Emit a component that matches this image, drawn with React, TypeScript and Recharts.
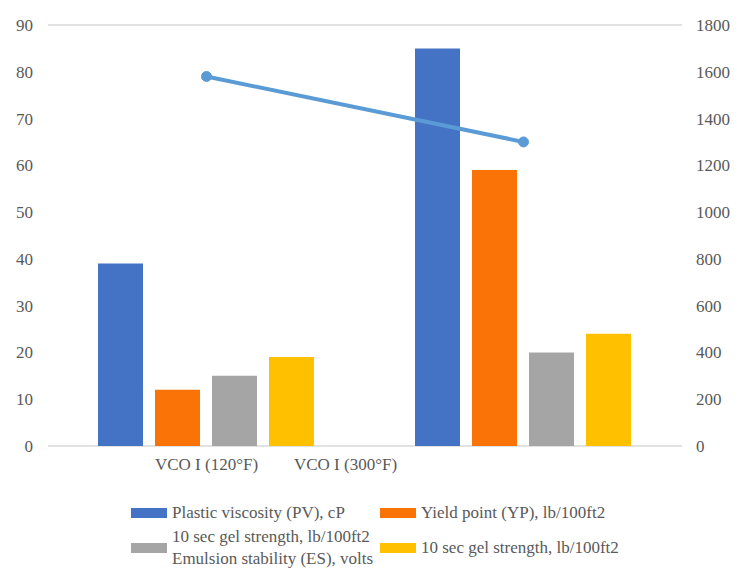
import React from 'react';
import {
  ComposedChart,
  Bar,
  Line,
  XAxis,
  YAxis,
  CartesianGrid,
} from 'recharts';

const categories = ['VCO I (120°F)', 'VCO I (300°F)'];
const plasticViscosity = [39, 85];
const yieldPoint = [12, 59];
const gelStrengthA = [15, 20];
const gelStrengthB = [19, 24];
const emulsionStability = [1580, 1300];

const leftTicks = [0, 10, 20, 30, 40, 50, 60, 70, 80, 90];
const rightTicks = [0, 200, 400, 600, 800, 1000, 1200, 1400, 1600, 1800];

const series = [
  { key: 'pv', name: 'Plastic viscosity (PV), cP', color: '#4472c4' },
  { key: 'yp', name: 'Yield point (YP), lb/100ft2', color: '#f97306' },
  { key: 'gelA', name: '10 sec gel strength, lb/100ft2', color: '#a5a5a5' },
  { key: 'gelB', name: '10 sec gel strength, lb/100ft2', color: '#ffc000' },
];
const lineName = 'Emulsion stability (ES), volts';

const data = categories.map((c, i) => ({
  name: c,
  pv: plasticViscosity[i],
  yp: yieldPoint[i],
  gelA: gelStrengthA[i],
  gelB: gelStrengthB[i],
  es: emulsionStability[i],
}));

const FONT = 'Liberation Serif, Times New Roman, DejaVu Serif, serif';
const TEXT = '#595959';

// the source chart draws the second category label well left of its group
const labelShift = [0, -178];

const CategoryTick = (props: any) => {
  const { x, y, payload, index } = props;
  return (
    <text
      x={x + (labelShift[index] || 0)}
      y={y}
      dy="0.71em"
      textAnchor="middle"
      fill={TEXT}
      style={{ fontFamily: FONT, fontSize: 17 }}
    >
      {payload.value}
    </text>
  );
};

const NumTick = (props: any) => {
  const { x, y, payload, textAnchor } = props;
  return (
    <text
      x={x}
      y={y}
      dy="0.355em"
      textAnchor={textAnchor}
      fill={TEXT}
      style={{ fontFamily: FONT, fontSize: 17 }}
    >
      {payload.value}
    </text>
  );
};

const Swatch = ({ color }: { color: string }) => (
  <div style={{ width: 36, height: 10, background: color, flexShrink: 0, marginRight: 5 }} />
);

export default function App() {
  return (
    <div style={{ position: 'absolute', left: 0, top: 0, width: 748, height: 570, background: '#fff', fontFamily: FONT }}>
      <ComposedChart
        width={748}
        height={480}
        data={data}
        margin={{ top: 25, right: 0, bottom: 0, left: 0 }}
        barCategoryGap={50}
        barGap={12}
      >
        <CartesianGrid vertical={false} stroke="#d9d9d9" strokeWidth={1.5} />
        <XAxis
          dataKey="name"
          axisLine={false}
          tickLine={false}
          height={34}
          tickMargin={6}
          tick={<CategoryTick />}
          interval={0}
        />
        <YAxis
          yAxisId="left"
          domain={[0, 90]}
          ticks={leftTicks}
          width={48}
          axisLine={false}
          tickLine={false}
          tickMargin={9}
          tick={<NumTick />}
        />
        <YAxis
          yAxisId="right"
          orientation="right"
          domain={[0, 1800]}
          ticks={rightTicks}
          width={66}
          axisLine={false}
          tickLine={false}
          tickMargin={8}
          tick={<NumTick />}
        />
        {series.map((s) => (
          <Bar
            key={s.key}
            yAxisId="left"
            dataKey={s.key}
            name={s.name}
            fill={s.color}
            isAnimationActive={false}
          />
        ))}
        <Line
          yAxisId="right"
          dataKey="es"
          name={lineName}
          stroke="#5b9bd5"
          strokeWidth={4}
          dot={{ r: 5, fill: '#5b9bd5', stroke: '#5b9bd5', strokeWidth: 1 }}
          isAnimationActive={false}
        />
      </ComposedChart>
      <div
        style={{
          position: 'absolute',
          left: 131,
          top: 502,
          display: 'grid',
          gridTemplateColumns: '249px auto',
          rowGap: 2,
          color: TEXT,
          fontSize: 17,
          lineHeight: '22px',
        }}
      >
        <div style={{ display: 'flex', alignItems: 'center' }}>
          <Swatch color={series[0].color} />
          <span>{series[0].name}</span>
        </div>
        <div style={{ display: 'flex', alignItems: 'center' }}>
          <Swatch color={series[1].color} />
          <span>{series[1].name}</span>
        </div>
        <div style={{ display: 'flex', alignItems: 'center' }}>
          <Swatch color={series[2].color} />
          <span>
            {series[2].name}
            <br />
            {lineName}
          </span>
        </div>
        <div style={{ display: 'flex', alignItems: 'center' }}>
          <Swatch color={series[3].color} />
          <span>{series[3].name}</span>
        </div>
      </div>
    </div>
  );
}
